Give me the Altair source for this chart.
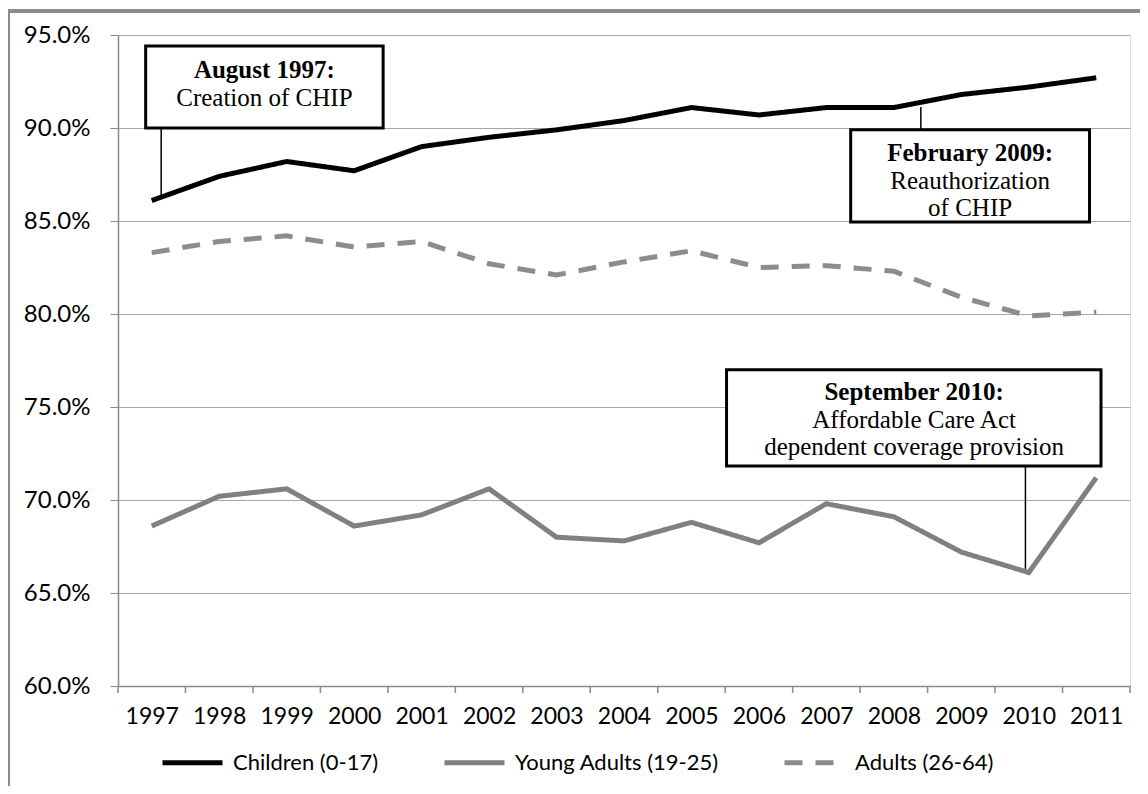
import altair as alt
import pandas as pd

# ---------------- data ----------------
years = list(range(1997, 2012))
children = [86.1, 87.4, 88.2, 87.7, 89.0, 89.5, 89.9, 90.4, 91.1, 90.7, 91.1, 91.1, 91.8, 92.2, 92.7]
young_adults = [68.6, 70.2, 70.6, 68.6, 69.2, 70.6, 68.0, 67.8, 68.8, 67.7, 69.8, 69.1, 67.2, 66.1, 71.2]
adults = [83.3, 83.9, 84.2, 83.6, 83.9, 82.7, 82.1, 82.8, 83.4, 82.5, 82.6, 82.3, 80.9, 79.9, 80.1]

series_names = ["Children (0-17)", "Young Adults (19-25)", "Adults (26-64)"]
series_colors = ["#000000", "#808080", "#8c8c8c"]
series_dash = [[1, 0], [1, 0], [18, 13]]

y_ticks = [60, 65, 70, 75, 80, 85, 90, 95]
x_bounds = [y - 0.5 for y in years] + [years[-1] + 0.5]

# annotation boxes (data units)
box_x1 = [1996.91, 2007.36, 2005.52]
box_x2 = [2000.43, 2010.90, 2011.07]
box_top = [94.41, 89.90, 77.00]
box_bottom = [90.00, 84.95, 71.83]
conn_x = [1997.14, 2008.40, 2009.95]
conn_y1 = [90.00, 91.13, 71.83]
conn_y2 = [86.40, 89.90, 66.30]

title_text = ["August 1997:", "February 2009:", "September 2010:"]
title_x = [1998.67, 2009.13, 2008.30]
title_y = [93.12, 88.66, 75.81]

body_text = ["Creation of CHIP", "Reauthorization", "of CHIP", "Affordable Care Act", "dependent coverage provision"]
body_x = [1998.67, 2009.13, 2009.13, 2008.30, 2008.30]
body_y = [91.61, 87.15, 85.70, 74.30, 72.85]

# ---------------- tables ----------------
rows = []
for name, vals in zip(series_names, [children, young_adults, adults]):
    for yr, v in zip(years, vals):
        rows.append({"year": yr, "value": v, "series": name})
df = pd.DataFrame(rows)

boxes = pd.DataFrame({"x1": box_x1, "x2": box_x2, "top": box_top, "bottom": box_bottom})
conns = pd.DataFrame({"x": conn_x, "y1": conn_y1, "y2": conn_y2})
titles = pd.DataFrame({"x": title_x, "y": title_y, "t": title_text})
bodies = pd.DataFrame({"x": body_x, "y": body_y, "t": body_text})
bounds = pd.DataFrame({"b": x_bounds})

AXIS_GRAY = "#8a8a8a"
x_scale = alt.Scale(domain=[years[0] - 0.5, years[-1] + 0.5], nice=False, zero=False)
y_scale = alt.Scale(domain=[60, 95], nice=False, zero=False)

legend = alt.Legend(
    title=None, orient="none", legendX=42, legendY=695, direction="horizontal",
    symbolType="stroke", symbolSize=3600, symbolStrokeWidth=5,
    labelFont="Lato", labelFontSize=22, labelColor="#000", labelOffset=8,
    labelLimit=0, columnPadding=55, padding=0,
)

lines = alt.Chart(df).mark_line(strokeWidth=5).encode(
    x=alt.X("year:Q", scale=x_scale, axis=alt.Axis(
        values=years, format="d", grid=False, ticks=False, tickSize=0,
        domainColor=AXIS_GRAY, domainWidth=1.5, labelFont="Lato", labelFontSize=23,
        labelColor="#000", labelPadding=19, title=None, labelFlush=False)),
    y=alt.Y("value:Q", scale=y_scale, axis=alt.Axis(
        values=y_ticks, labelExpr="format(datum.value, '.1f') + '%'",
        grid=True, gridColor="#a6a6a6", gridWidth=1, tickColor=AXIS_GRAY, tickSize=8,
        domainColor=AXIS_GRAY, domainWidth=1.5, labelFont="Lato", labelFontSize=24,
        labelColor="#000", labelPadding=20, title=None)),
    color=alt.Color("series:N", scale=alt.Scale(domain=series_names, range=series_colors), legend=legend),
    strokeDash=alt.StrokeDash("series:N", scale=alt.Scale(domain=series_names, range=series_dash), legend=legend),
    order=alt.Order("year:Q"),
)

ticks = alt.Chart(bounds).mark_rule(color=AXIS_GRAY, strokeWidth=1.5).encode(
    x=alt.X("b:Q", scale=x_scale), y=alt.value(651), y2=alt.value(658)
)

connectors = alt.Chart(conns).mark_rule(color="#000", strokeWidth=1.5).encode(
    x=alt.X("x:Q", scale=x_scale), y=alt.Y("y1:Q", scale=y_scale), y2="y2:Q"
)

box_marks = alt.Chart(boxes).mark_rect(fill="white", stroke="#000", strokeWidth=3).encode(
    x=alt.X("x1:Q", scale=x_scale), x2="x2:Q",
    y=alt.Y("top:Q", scale=y_scale), y2="bottom:Q",
)

title_marks = alt.Chart(titles).mark_text(
    font="Liberation Serif", fontSize=25, fontWeight="bold", color="#000",
    align="center", baseline="middle").encode(
    x=alt.X("x:Q", scale=x_scale), y=alt.Y("y:Q", scale=y_scale), text="t:N")

body_marks = alt.Chart(bodies).mark_text(
    font="Liberation Serif", fontSize=25, color="#000",
    align="center", baseline="middle").encode(
    x=alt.X("x:Q", scale=x_scale), y=alt.Y("y:Q", scale=y_scale), text="t:N")

frame_left = alt.Chart(bounds).mark_rule(color="#8c8c8c", strokeWidth=2.5).encode(
    x=alt.value(-110), y=alt.value(-24), y2=alt.value(900))
frame_top = alt.Chart(bounds).mark_rule(color="#8c8c8c", strokeWidth=2.5).encode(
    x=alt.value(-110), x2=alt.value(1200), y=alt.value(-24))

chart = alt.layer(
    lines, ticks, connectors, box_marks, title_marks, body_marks, frame_left, frame_top
).properties(
    width=1012, height=651,
    autosize=alt.AutoSizeParams(type="none"),
    padding={"left": 110, "top": 27, "right": 10, "bottom": 100},
).configure_view(stroke=None).configure(background="white")

chart.save("out.html", embed_options={"renderer": "svg", "actions": False})
